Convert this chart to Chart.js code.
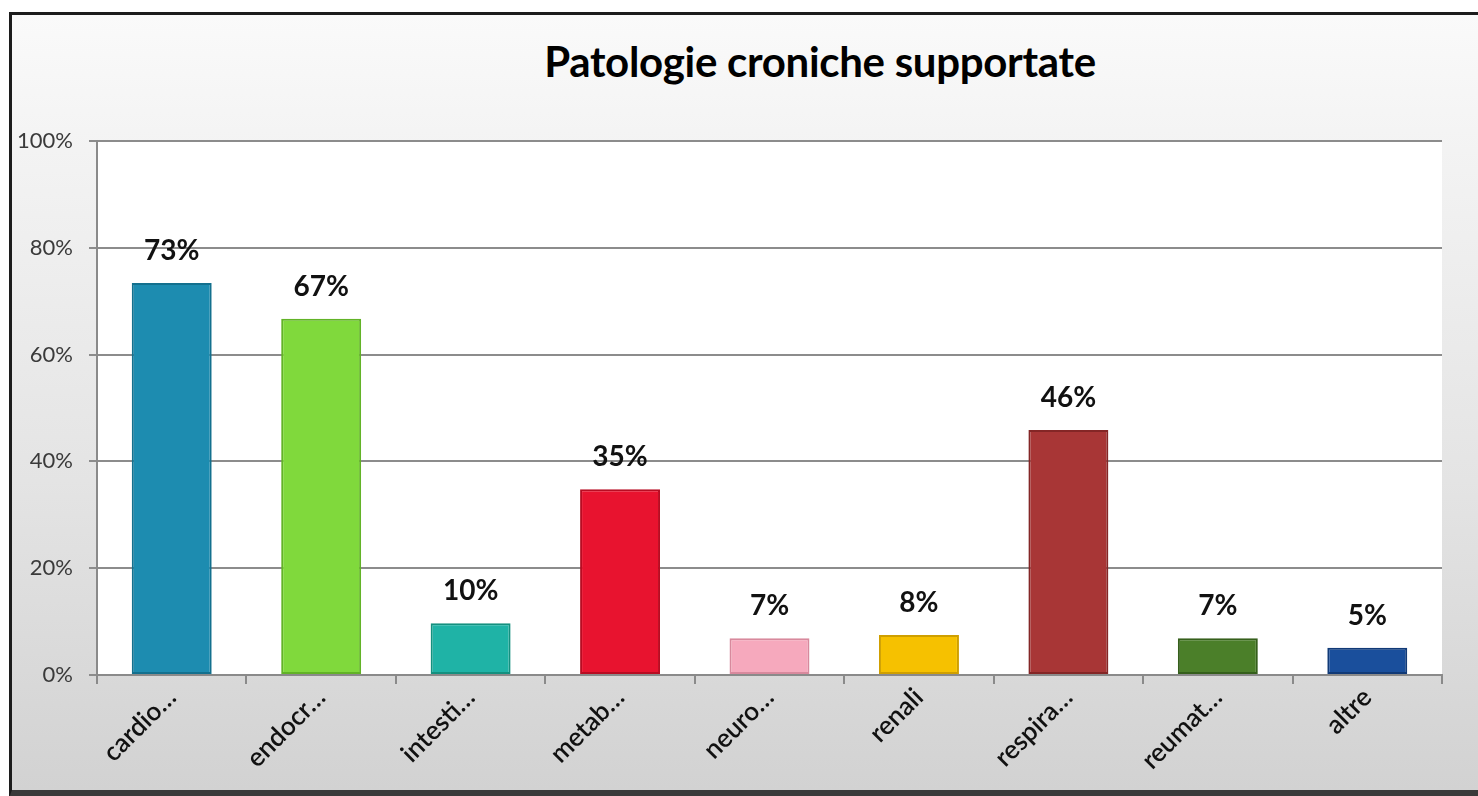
<!DOCTYPE html>
<html>
<head>
<meta charset="utf-8">
<title>Patologie croniche supportate</title>
<script src="https://cdn.jsdelivr.net/npm/chart.js@4.4.1/dist/chart.umd.min.js"></script>
<style>
    html, body {
        margin: 0;
        padding: 0;
        background: #ffffff;
        overflow: hidden;
    }
    #frame {
        position: absolute;
        left: 9px;
        top: 12px;
        width: 1500px;
        height: 775px;
        border-left: 3px solid #1c1c1c;
        border-top: 3px solid #1c1c1c;
        border-bottom: 8px solid #3a3a3a;
        background: linear-gradient(to bottom, #fafafa 0%, #f2f2f2 20%, #e4e4e4 60%, #d2d2d2 100%);
    }
    #title {
        position: absolute;
        left: 0;
        width: 1640px;
        top: 36px;
        text-align: center;
        font-family: Lato, "Open Sans", sans-serif;
        font-weight: bold;
        font-size: 42px;
        letter-spacing: -0.3px;
        color: #000000;
    }
    #wrap {
        position: absolute;
        left: 0;
        top: 0;
        width: 1478px;
        height: 796px;
    }
</style>
</head>
<body>
<div id="frame"></div>
<div id="title">Patologie croniche supportate</div>
<div id="wrap"><canvas id="chart"></canvas></div>
<script>
    // values
    var categories = ['cardio…', 'endocr…', 'intesti…', 'metab…', 'neuro…', 'renali', 'respira…', 'reumat…', 'altre'];
    var values = [73.4, 66.7, 9.7, 34.8, 6.9, 7.5, 45.9, 6.9, 5.1];
    var barColors = ['#1d8cb0', '#80d93c', '#1fb3a6', '#e8132f', '#f6a9bd', '#f6c100', '#a83636', '#4b7f29', '#1a4f9c'];
    var borderColors = ['#13708e', '#62b327', '#14907f', '#b80c22', '#d8899d', '#cf9f00', '#842626', '#355f1b', '#113a77'];
    var yTicks = [0, 20, 40, 60, 80, 100];

    var FONT = 'Lato, "Open Sans", sans-serif';

    //white plot background behind the bars
    var plotBackground = {
        id: 'plotBackground',
        beforeDraw: function (chart) {
            var a = chart.chartArea, ctx = chart.ctx;
            ctx.save();
            ctx.fillStyle = '#ffffff';
            ctx.fillRect(a.left, a.top, a.right - a.left, a.bottom - a.top);
            ctx.restore();
        }
    };

    //percent labels above each bar
    var valueLabels = {
        id: 'valueLabels',
        afterDatasetsDraw: function (chart) {
            var ctx = chart.ctx, meta = chart.getDatasetMeta(0), i, bar;
            ctx.save();
            ctx.font = 'bold 28px ' + FONT;
            ctx.fillStyle = '#111111';
            ctx.textAlign = 'center';
            ctx.textBaseline = 'middle';
            for (i = 0; i < meta.data.length; i++) {
                bar = meta.data[i];
                ctx.fillText(Math.round(values[i]) + '%', bar.x, bar.y - 32);
            }
            ctx.restore();
        }
    };

    new Chart(document.getElementById('chart'), {
        type: 'bar',
        data: {
            labels: categories,
            datasets: [{
                data: values,
                backgroundColor: barColors,
                borderColor: borderColors,
                borderWidth: 2,
                borderSkipped: false,
                categoryPercentage: 1,
                barPercentage: 0.535
            }]
        },
        options: {
            responsive: true,
            maintainAspectRatio: false,
            animation: false,
            layout: {
                padding: {top: 141, left: 0, right: 36, bottom: 0}
            },
            plugins: {
                legend: {display: false},
                tooltip: {enabled: false}
            },
            scales: {
                x: {
                    grid: {
                        offset: true,
                        drawOnChartArea: false,
                        drawTicks: true,
                        tickLength: 9,
                        color: '#8a8a8a',
                        lineWidth: 2
                    },
                    border: {color: '#8a8a8a', width: 2},
                    ticks: {
                        autoSkip: false,
                        maxRotation: 45,
                        minRotation: 45,
                        padding: -2,
                        color: '#111111',
                        font: {family: FONT, size: 26, weight: '600'}
                    },
                    afterFit: function (scale) {
                        scale.height = 796 - 675;
                    }
                },
                y: {
                    min: 0,
                    max: 100,
                    afterBuildTicks: function (scale) {
                        scale.ticks = yTicks.map(function (v) { return {value: v}; });
                    },
                    grid: {
                        color: '#8c8c8c',
                        lineWidth: 2,
                        tickLength: 8
                    },
                    border: {color: '#8a8a8a', width: 2},
                    ticks: {
                        padding: 16,
                        color: '#3a3a3a',
                        font: {family: FONT, size: 22},
                        callback: function (v) { return v + '%'; }
                    },
                    afterFit: function (scale) {
                        scale.width = 97;
                    }
                }
            }
        },
        plugins: [plotBackground, valueLabels]
    });
</script>
</body>
</html>
